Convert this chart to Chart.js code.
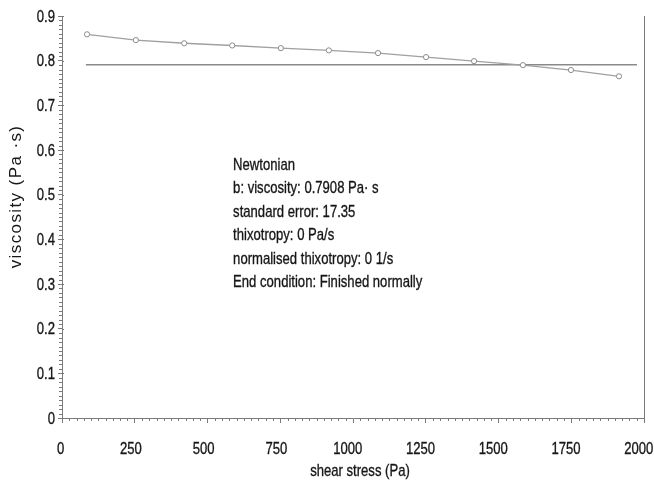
<!DOCTYPE html>
<html>
<head>
<meta charset="utf-8">
<script src="https://cdn.jsdelivr.net/npm/chart.js@4.4.1/dist/chart.umd.min.js"></script>
<style>
html,body{margin:0;padding:0;background:#fff;}
canvas{display:block;}
</style>
</head>
<body>
<canvas id="c" width="654" height="480"></canvas>
<script>
// ---- data ----
const shearStress = [86, 254, 420, 585, 752, 917, 1086, 1251, 1416, 1584, 1749, 1914];
const viscosity   = [0.859, 0.846, 0.839, 0.834, 0.828, 0.823, 0.817, 0.808, 0.799, 0.790, 0.779, 0.765];
const fitX = [82, 1976];
const fitY = [0.7908, 0.7908];
const xTicks = [0, 250, 500, 750, 1000, 1250, 1500, 1750, 2000];
const xTickLabels = ['0', '250', '500', '750', '1000', '1250', '1500', '1750', '2000'];
const yTicks = [0, 0.1, 0.2, 0.3, 0.4, 0.5, 0.6, 0.7, 0.8, 0.9];
const yTickLabels = ['0', '0.1', '0.2', '0.3', '0.4', '0.5', '0.6', '0.7', '0.8', '0.9'];
const annotationLines = [
  'Newtonian',
  'b: viscosity: 0.7908 Pa\u00B7 s',
  'standard error: 17.35',
  'thixotropy: 0 Pa/s',
  'normalised thixotropy: 0 1/s',
  'End condition: Finished normally'
];
const xTitle = 'shear stress (Pa)';
const yTitle = 'viscosity (Pa \u00B7s)';

const FONT = '"Liberation Sans", Arial, sans-serif';
const NARROW_SCALE = 0.77;
const AXIS = '#7a7a7a';
const TEXT = '#161616';

function narrowText(ctx, text, x, y, align) {
  ctx.save();
  ctx.translate(x, y);
  ctx.scale(NARROW_SCALE, 1);
  ctx.textAlign = align;
  ctx.fillText(text, 0, 0);
  ctx.strokeText(text, 0, 0);
  ctx.restore();
}

const extras = {
  id: 'extras',
  afterDraw(chart) {
    const ctx = chart.ctx;
    const xs = chart.scales.x, ys = chart.scales.y;
    const x0 = Math.round(xs.getPixelForValue(0));
    const y0 = Math.round(ys.getPixelForValue(0));
    ctx.save();
    ctx.strokeStyle = AXIS;
    ctx.lineWidth = 1;
    ctx.beginPath();
    // minor ticks x (every 25)
    for (let v = 0; v <= 2000; v += 25) {
      if (v % 250 === 0) continue;
      const px = Math.round(xs.getPixelForValue(v)) + 0.5;
      ctx.moveTo(px, y0); ctx.lineTo(px, y0 + 3);
    }
    // minor ticks y (every 0.01)
    for (let i = 0; i <= 90; i++) {
      if (i % 10 === 0) continue;
      const py = Math.round(ys.getPixelForValue(i / 100)) + 0.5;
      ctx.moveTo(x0 - 3, py); ctx.lineTo(x0, py);
    }
    // small right-hand stubs on major y ticks
    yTicks.forEach(v => {
      const py = Math.round(ys.getPixelForValue(v)) + 0.5;
      ctx.moveTo(x0, py); ctx.lineTo(x0 + 2, py);
    });
    ctx.stroke();

    ctx.fillStyle = TEXT;
    ctx.strokeStyle = TEXT;
    ctx.lineWidth = 0.35;
    ctx.textBaseline = 'middle';
    ctx.font = '17px ' + FONT;
    // x tick labels
    xTicks.forEach((v, i) => {
      const lab = xTickLabels[i];
      const w = ctx.measureText(lab).width * NARROW_SCALE;
      narrowText(ctx, lab, xs.getPixelForValue(v) - 0.18 * w, y0 + 31, 'center');
    });
    // y tick labels
    yTicks.forEach((v, i) => {
      narrowText(ctx, yTickLabels[i], x0 - 7, ys.getPixelForValue(v) + 1, 'right');
    });
    // x title
    narrowText(ctx, xTitle, xs.getPixelForValue(2000 * 0.512), y0 + 53, 'center');
    // y title (regular width, rotated)
    ctx.save();
    ctx.translate(16, ys.getPixelForValue(0.496));
    ctx.rotate(-Math.PI / 2);
    ctx.textAlign = 'center';
    ctx.font = '17px ' + FONT;
    try { ctx.letterSpacing = '1.4px'; } catch (e) {}
    ctx.fillText(yTitle, 0, 0);
    ctx.restore();
    // annotation text
    const tx = xs.getPixelForValue(588);
    const ty = ys.getPixelForValue(0.566);
    annotationLines.forEach((s, i) => narrowText(ctx, s, tx, ty + i * 23.5, 'left'));
    ctx.restore();
  }
};

new Chart(document.getElementById('c'), {
  type: 'scatter',
  data: {
    datasets: [
      {
        data: shearStress.map((x, i) => ({x, y: viscosity[i]})),
        showLine: true,
        borderColor: '#a0a0a0',
        borderWidth: 1.3,
        pointRadius: 2.6,
        pointBorderWidth: 1,
        pointBorderColor: '#8c8c8c',
        pointBackgroundColor: '#ffffff',
        order: 1
      },
      {
        data: fitX.map((x, i) => ({x, y: fitY[i]})),
        showLine: true,
        borderColor: '#8a8a8a',
        borderWidth: 1.6,
        pointRadius: 0,
        order: 2
      }
    ]
  },
  options: {
    responsive: false,
    animation: false,
    events: [],
    layout: { padding: { top: 16, right: 0, bottom: 0, left: 0 } },
    plugins: { legend: { display: false }, tooltip: { enabled: false } },
    scales: {
      x: {
        type: 'linear', min: 0, max: 2000,
        afterBuildTicks: s => { s.ticks = xTicks.map(v => ({value: v})); },
        afterFit: s => { s.height = 62; s.paddingLeft = 0; s.paddingRight = 0; },
        ticks: { display: false },
        grid: { drawOnChartArea: false, drawTicks: true, tickLength: 5, color: AXIS },
        border: { color: AXIS, width: 1 }
      },
      y: {
        type: 'linear', min: 0, max: 0.9,
        afterBuildTicks: s => { s.ticks = yTicks.map(v => ({value: v})); },
        afterFit: s => { s.width = 62; s.paddingTop = 0; s.paddingBottom = 0; },
        ticks: { display: false },
        grid: { drawOnChartArea: false, drawTicks: true, tickLength: 4, color: AXIS },
        border: { color: AXIS, width: 1 }
      },
      y2: {
        type: 'linear', position: 'right', min: 0, max: 0.9,
        afterFit: s => { s.width = 10; s.paddingTop = 0; s.paddingBottom = 0; },
        ticks: { display: false },
        grid: { display: false, drawOnChartArea: false },
        border: { display: true, color: AXIS, width: 1 }
      }
    }
  },
  plugins: [extras]
});
</script>
</body>
</html>
